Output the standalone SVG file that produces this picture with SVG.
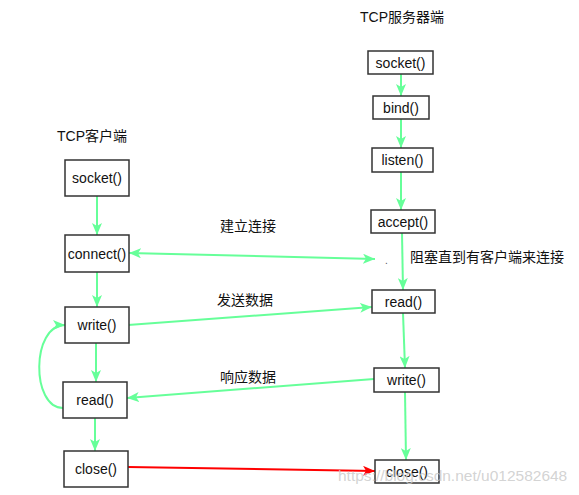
<svg xmlns="http://www.w3.org/2000/svg" width="579" height="495" viewBox="0 0 579 495">
<style>
.box{fill:#fff;stroke:#333;stroke-width:1.5}
.t{font-family:"Liberation Sans","Noto Sans CJK SC",sans-serif;font-size:14px;fill:#111;text-anchor:middle}
.lbl{font-family:"Liberation Sans","Noto Sans CJK SC",sans-serif;font-size:14px;fill:#111}
.g{fill:none;stroke:#66FF99;stroke-width:2;marker-end:url(#ag)}
.r{fill:none;stroke:#FF0000;stroke-width:2;marker-end:url(#ar)}
.wm{font-family:"Liberation Sans",sans-serif;font-size:15.5px;fill:#c8c8c8;fill-opacity:0.8}
</style>
<defs>
<marker id="ag" viewBox="0 0 12 10" refX="12" refY="5" markerWidth="12" markerHeight="10" markerUnits="userSpaceOnUse" orient="auto-start-reverse">
<path d="M0,0 L12,5 L0,10 L3,5 z" fill="#66FF99"/>
</marker>
<marker id="ar" viewBox="0 0 12 10" refX="12" refY="5" markerWidth="12" markerHeight="10" markerUnits="userSpaceOnUse" orient="auto">
<path d="M0,0 L12,5 L0,10 L3,5 z" fill="#FF0000"/>
</marker>
</defs>
<g id="connectors">
<path class="g" d="M97,196 L97,235"/>
<path class="g" d="M97,272 L97,307"/>
<path class="g" d="M96,343 L96,382"/>
<path class="g" d="M95,418 L95,451"/>
<path class="g" d="M401,74 L401,96"/>
<path class="g" d="M401,119 L401,148"/>
<path class="g" d="M401,172 L401,210"/>
<path class="g" d="M402,233 L403,290"/>
<path class="g" d="M403,313 L405,368"/>
<path class="g" d="M405,392 L406,460"/>
<path class="g" d="M129,253 L375,259" style="marker-start:url(#ag)"/>
<path class="g" d="M128,325 L372,307"/>
<path class="g" d="M374,379 L127,398"/>
<path class="g" d="M63,408 C31,408 31,325 65,325"/>
<path class="r" d="M128,467 L375,471"/>
</g>
<g id="label-server"><text class="lbl" x="360" y="22">TCP服务器端</text></g>
<g id="label-client"><text class="lbl" x="57" y="141">TCP客户端</text></g>
<g id="label-connect"><text class="lbl" x="220" y="231">建立连接</text></g>
<g id="label-send"><text class="lbl" x="217" y="305">发送数据</text></g>
<g id="label-reply"><text class="lbl" x="220" y="382">响应数据</text></g>
<g id="label-block"><text class="lbl" x="410" y="262">阻塞直到有客户端来连接</text></g>
<g id="dot"><text class="lbl" x="385" y="264" style="font-size:10px;fill:#555">.</text></g>
<g id="c-socket"><rect class="box" x="65" y="160" width="64" height="36"/><text class="t" x="97" y="183">socket()</text></g>
<g id="c-connect"><rect class="box" x="65" y="235" width="64" height="37"/><text class="t" x="97" y="258.5">connect()</text></g>
<g id="c-write"><rect class="box" x="65" y="307" width="64" height="36"/><text class="t" x="97" y="330">write()</text></g>
<g id="c-read"><rect class="box" x="63" y="382" width="64" height="36"/><text class="t" x="95" y="405">read()</text></g>
<g id="c-close"><rect class="box" x="64" y="451" width="64" height="36"/><text class="t" x="96" y="474">close()</text></g>
<g id="s-socket"><rect class="box" x="368" y="51" width="65" height="23"/><text class="t" x="400.5" y="67.5">socket()</text></g>
<g id="s-bind"><rect class="box" x="373" y="96" width="56" height="23"/><text class="t" x="401" y="112.5">bind()</text></g>
<g id="s-listen"><rect class="box" x="372" y="148" width="61" height="24"/><text class="t" x="402.5" y="165">listen()</text></g>
<g id="s-accept"><rect class="box" x="371" y="210" width="64" height="23"/><text class="t" x="403" y="226.5">accept()</text></g>
<g id="s-read"><rect class="box" x="372" y="290" width="63" height="23"/><text class="t" x="403.5" y="306.5">read()</text></g>
<g id="s-write"><rect class="box" x="374" y="368" width="65" height="24"/><text class="t" x="406.5" y="385">write()</text></g>
<g id="s-close"><rect class="box" x="375" y="460" width="64" height="23"/><text class="t" x="407" y="476.5">close()</text></g>
<text class="wm" x="338" y="481">https://blog.csdn.net/u012582648</text>
</svg>
